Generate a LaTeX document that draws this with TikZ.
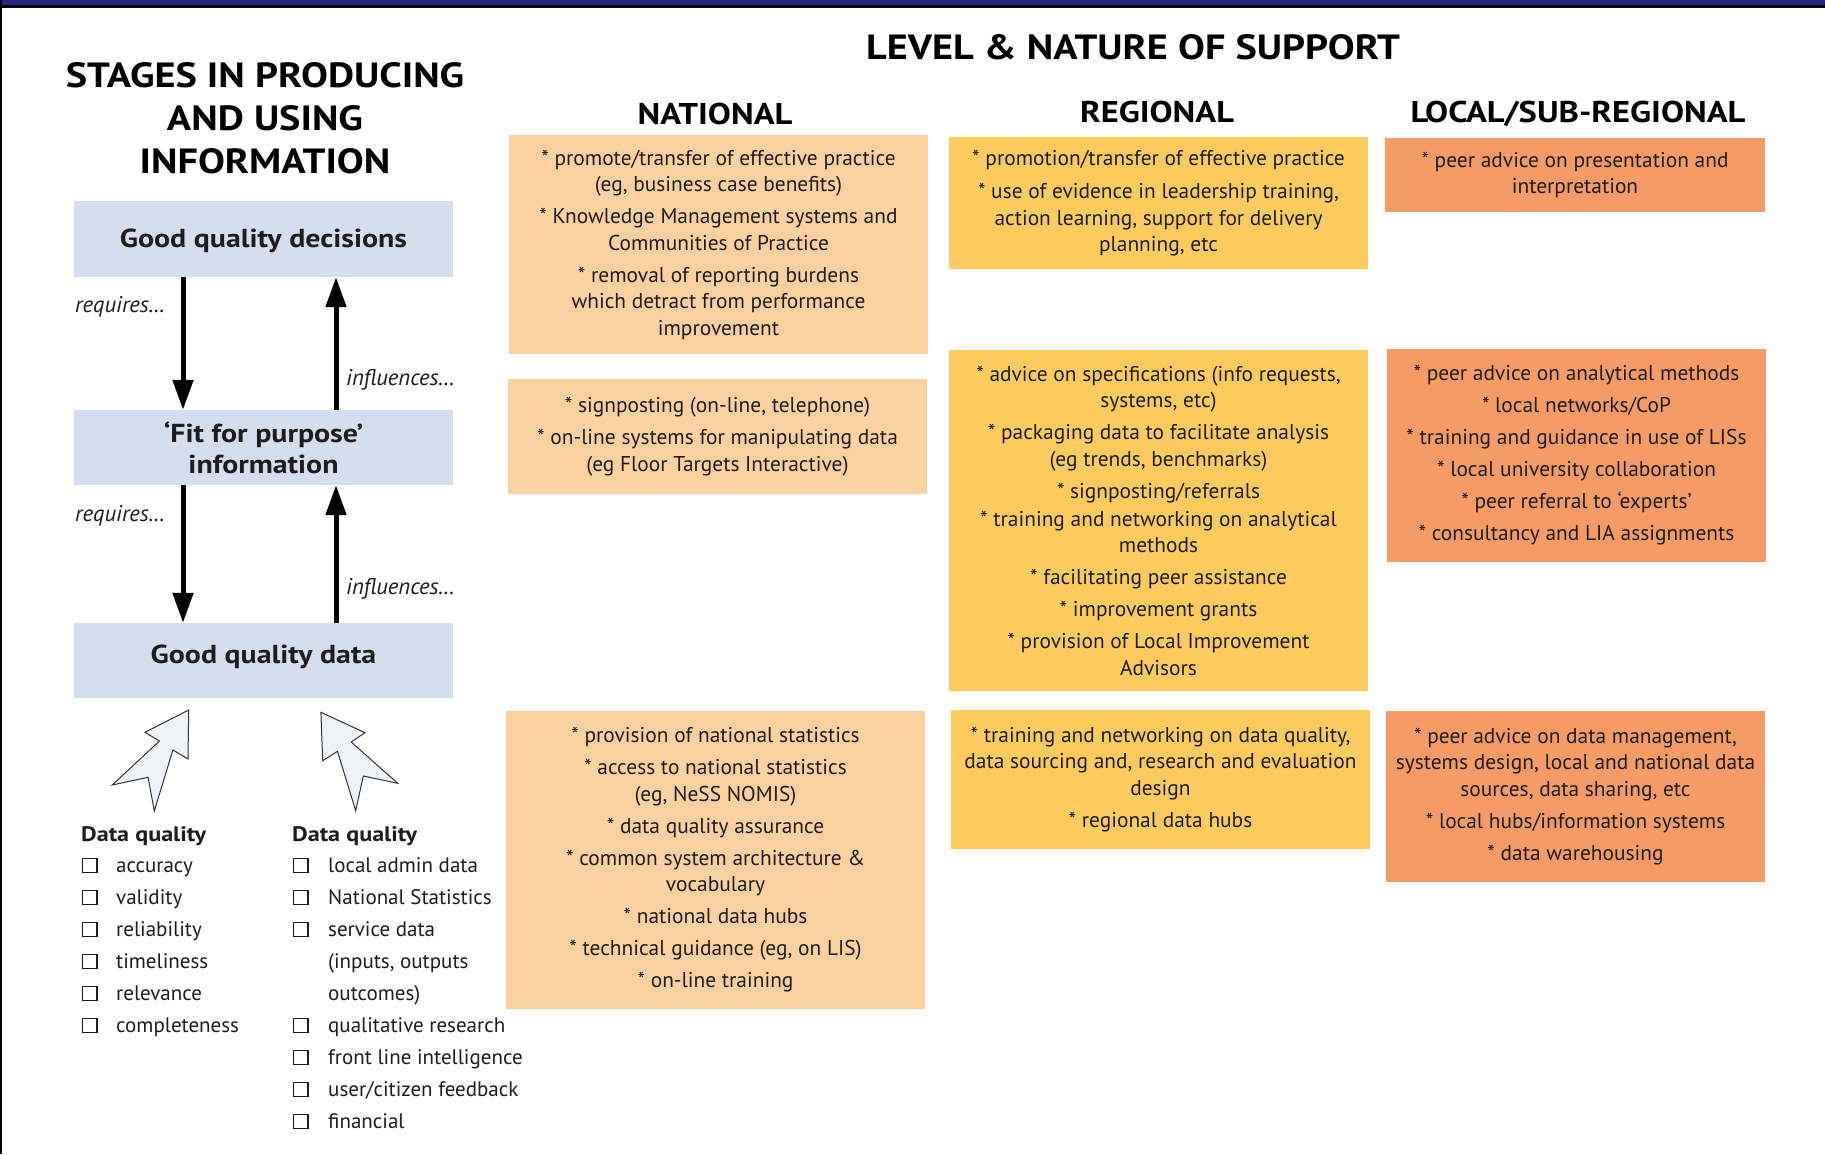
\documentclass[tikz,border=0pt]{standalone}
\usepackage{fontspec}
\setmainfont{PT Sans}[BoldFeatures={FakeStretch=1.15}]
\usetikzlibrary{arrows.meta}
\definecolor{natc}{RGB}{252,209,160}
\definecolor{regc}{RGB}{254,204,94}
\definecolor{locc}{RGB}{244,155,102}
\definecolor{leftc}{RGB}{213,222,238}
\definecolor{arrfill}{RGB}{238,243,250}
\definecolor{navy}{RGB}{41,38,122}
\definecolor{ink}{RGB}{30,28,28}
\tikzset{
  box/.style={inner sep=0pt, align=center, text=ink, font=\fontsize{21.4bp}{26.5bp}\selectfont},
  stagebox/.style={fill=leftc, inner sep=0pt, align=center, text=ink, minimum width=379bp, font=\bfseries\fontsize{26bp}{31bp}\selectfont},
  stagetext/.style={inner sep=0pt, align=center, text=ink, font=\bfseries\fontsize{26bp}{31bp}\selectfont},
  bigtitle/.style={inner sep=0pt, align=center, text=black, font=\bfseries\fontsize{35bp}{43bp}\selectfont},
  colhead/.style={inner sep=0pt, align=center, text=black, font=\bfseries\fontsize{30bp}{36bp}\selectfont},
  lbl/.style={inner sep=0pt, anchor=west, text=ink, font=\itshape\fontsize{22.7bp}{25bp}\selectfont},
  listtxt/.style={inner sep=0pt, anchor=base west, text=ink, font=\fontsize{21bp}{25bp}\selectfont},
  listhead/.style={inner sep=0pt, anchor=base west, text=ink, font=\bfseries\fontsize{21bp}{25bp}\selectfont},
  chk/.style={draw=ink, line width=1.4bp},
  thickarrow/.style={draw=black, line width=5bp, -{Triangle[length=30bp,width=20bp]}},
  hollow/.style={draw=black!80, line width=1bp, fill=arrfill, line join=miter},
}
\begin{document}
\begin{tikzpicture}[x=1bp,y=-1bp]
\useasboundingbox (0,0) rectangle (1825,1154);
\fill[white] (0,0) rectangle (1825,1154);
\fill[navy] (0,0) rectangle (1825,4.5);
\fill[black] (0,4.5) rectangle (1825,7.5);
\fill[black] (0,0) rectangle (2.2,1154);

% left titles
\node[bigtitle] (stt) at (265,118.5) {STAGES IN PRODUCING\\AND USING\\INFORMATION};
\node[stagebox, minimum height=76bp] (dec) at (263.5,239) {};
\node[stagetext] (dect) at ([yshift=-1.5bp]dec.center) {Good quality decisions};
\node[stagebox, minimum height=75bp] (fit) at (263.5,447.5) {‘Fit for purpose’\\information};
\node[stagebox, minimum height=75bp] (gqd) at (263.5,660.5) {};
\node[stagetext] (gqdt) at ([yshift=3.5bp]gqd.center) {Good quality data};

\draw[thickarrow] ([xshift=-80.5bp]dec.south) -- ([xshift=-80.5bp]fit.north);
\draw[thickarrow] ([xshift=72.5bp]fit.north) -- ([xshift=72.5bp]dec.south);
\draw[thickarrow] ([xshift=-80.5bp]fit.south) -- ([xshift=-80.5bp]gqd.north);
\draw[thickarrow] ([xshift=72.5bp]gqd.north) -- ([xshift=72.5bp]fit.south);

\node[lbl] (rq1) at (75,307) {requires\ldots};
\node[lbl] (in1) at (346,380) {influences\ldots};
\node[lbl] (rq2) at (75,516) {requires\ldots};
\node[lbl] (in2) at (346,589) {influences\ldots};

% hollow arrows
\draw[hollow] (188.7,710) -- (188.0,759) -- (172.9,750) -- (154.3,811) -- (148.1,777.3) -- (112.3,785) -- (159.4,741) -- (145.0,732.3) -- cycle;
\draw[hollow] (320.9,712.3) -- (365.0,732.7) -- (351.2,742) -- (397.7,783.3) -- (363.3,776) -- (355.7,810.7) -- (337.5,751.3) -- (322.7,760.7) -- cycle;

% lists
\node[listhead] (dq1) at (81,841) {Data quality};
\foreach \t [count=\i] in {accuracy,validity,reliability,timeliness,relevance,completeness}{
  \pgfmathsetmacro{\yy}{865.7+32*(\i-1)}
  \draw[chk] (82.5,\yy-7.5) rectangle (97,\yy+7);
  \node[listtxt] (la\i) at (116,\yy+7) {\t};
}
\node[listhead] (dq2) at (292,841) {Data quality};
\foreach \t/\c [count=\i] in {local admin data/1,National Statistics/1,service data/1,{(inputs, outputs}/0,outcomes)/0,qualitative research/1,front line intelligence/1,{user/citizen feedback}/1,financial/1}{
  \pgfmathsetmacro{\yy}{865.7+32*(\i-1)}
  \ifnum\c=1 \draw[chk] (293.5,\yy-7.5) rectangle (308,\yy+7); \fi
  \node[listtxt] (lb\i) at (328,\yy+7) {\t};
}

% right titles
\node[bigtitle] (lns) at (1133,47) {LEVEL \& NATURE OF SUPPORT};
\node[colhead] (hn) at (715,114) {NATIONAL};
\node[colhead] (hr) at (1157,112) {REGIONAL};
\node[colhead] (hl) at (1578,114) {LOCAL/SUB-REGIONAL};

% national
\node[box, fill=natc, minimum width=419bp, minimum height=219bp] (n1) at (718.5,244.5) {* promote/transfer of effective practice\\(eg, business case benefits)\\[5.5bp]* Knowledge Management systems and\\Communities of Practice\\[5.5bp]* removal of reporting burdens\\which detract from performance\\improvement};
\node[box, fill=natc, minimum width=419bp, minimum height=115bp] (n2) at (717.5,436.5) {* signposting (on-line, telephone)\\[5.5bp]* on-line systems for manipulating data\\(eg Floor Targets Interactive)};
\node[box, fill=natc, minimum width=419bp, minimum height=298bp] (n3) at (715.5,860) {* provision of national statistics\\[5.5bp]* access to national statistics\\(eg, NeSS NOMIS)\\[5.5bp]* data quality assurance\\[5.5bp]* common system architecture \&\\vocabulary\\[5.5bp]* national data hubs\\[5.5bp]* technical guidance (eg, on LIS)\\[5.5bp]* on-line training};

% regional
\node[box, fill=regc, minimum width=419bp, minimum height=132bp] (r1) at (1158.5,203) {* promotion/transfer of effective practice\\[7bp]* use of evidence in leadership training,\\action learning, support for delivery\\planning, etc};
\node[box, fill=regc, minimum width=419bp, minimum height=341bp] (r2) at (1158.5,520.5) {* advice on specifications (info requests,\\systems, etc)\\[5.5bp]* packaging data to facilitate analysis\\(eg trends, benchmarks)\\[5.5bp]* signposting/referrals\\[1.5bp]* training and networking on analytical\\methods\\[5.5bp]* facilitating peer assistance\\[5.5bp]* improvement grants\\[5.5bp]* provision of Local Improvement\\Advisors};
\node[box, fill=regc, minimum width=419bp, minimum height=139bp] (r3) at (1160.5,779.5) {* training and networking on data quality,\\data sourcing and, research and evaluation\\design\\[5.5bp]* regional data hubs};

% local
\node[box, fill=locc, minimum width=380bp, minimum height=74bp] (l1) at (1575,175) {* peer advice on presentation and\\interpretation};
\node[box, fill=locc, minimum width=379bp, minimum height=213bp] (l2) at (1576.5,455.5) {* peer advice on analytical methods\\[5.5bp]* local networks/CoP\\[5.5bp]* training and guidance in use of LISs\\[5.5bp]* local university collaboration\\[5.5bp]* peer referral to ‘experts’\\[5.5bp]* consultancy and LIA assignments};
\node[box, fill=locc, minimum width=379bp, minimum height=171bp] (l3) at (1575.5,796.5) {* peer advice on data management,\\systems design, local and national data\\sources, data sharing, etc\\[5.5bp]* local hubs/information systems\\[5.5bp]* data warehousing};
\end{tikzpicture}
\end{document}
